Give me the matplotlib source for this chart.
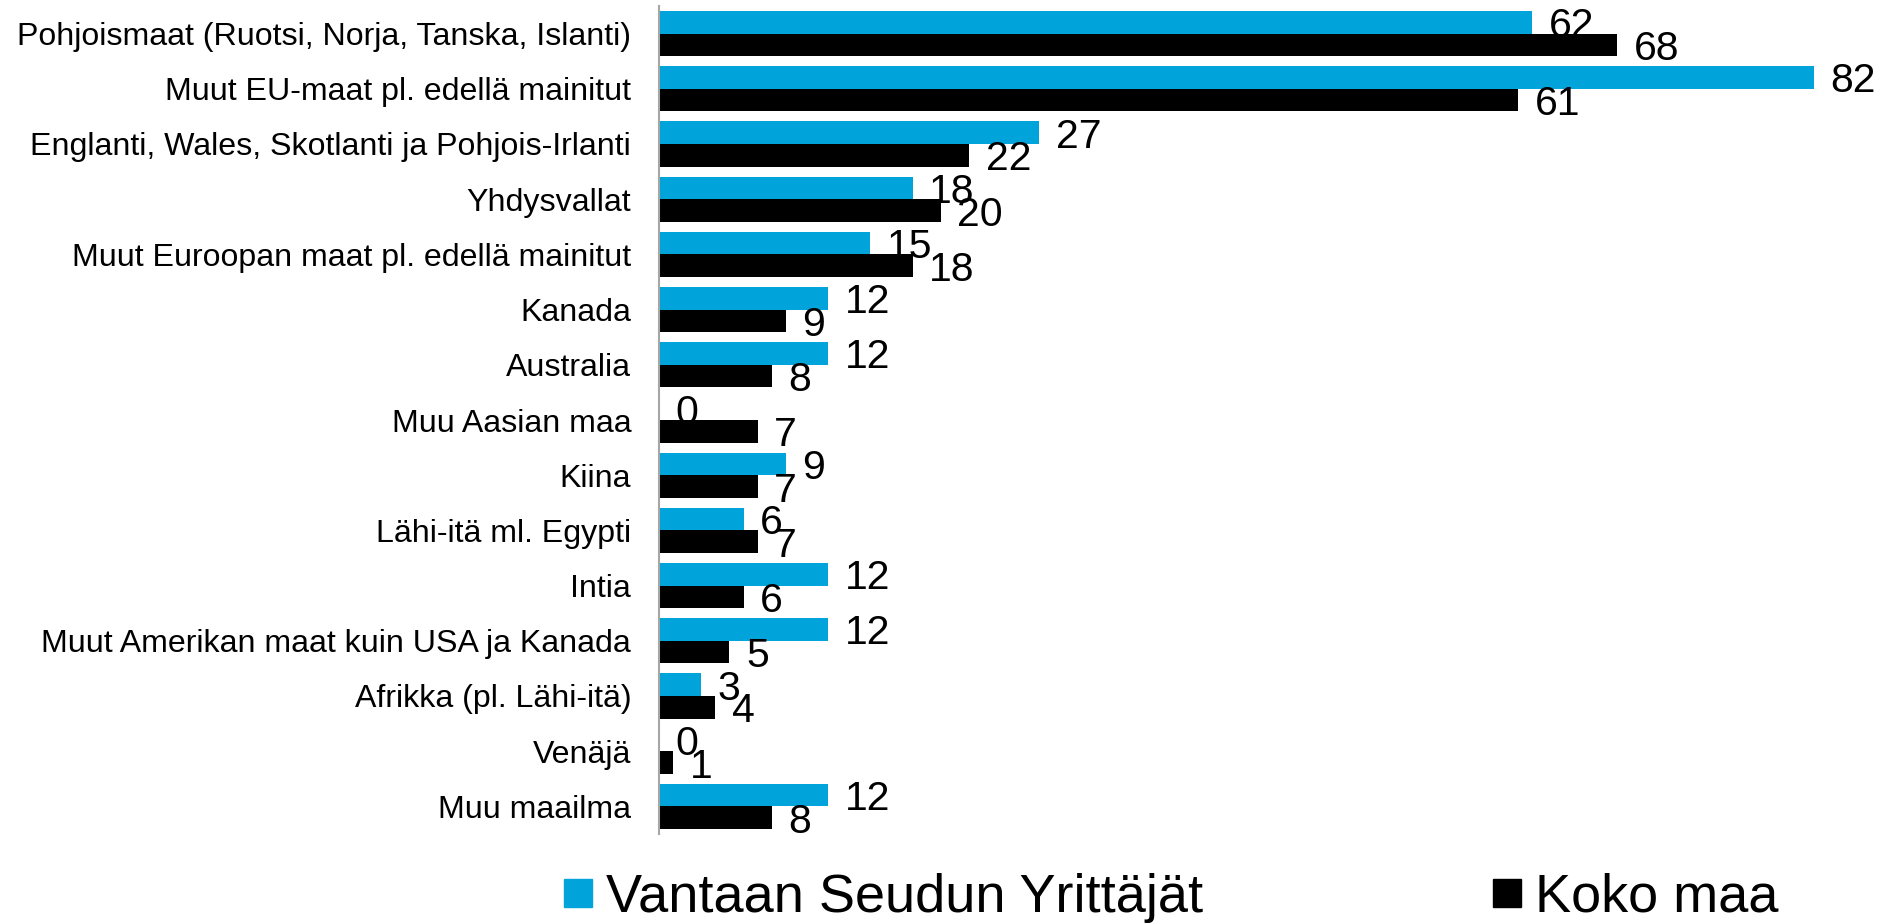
import matplotlib
matplotlib.use('Agg')
import matplotlib.pyplot as plt
from matplotlib.lines import Line2D
import numpy as np

plt.rcParams['font.family'] = ['Liberation Sans', 'DejaVu Sans']

# data, top to bottom as in the chart
categories = [
    'Pohjoismaat (Ruotsi, Norja, Tanska, Islanti)',
    'Muut EU-maat pl. edellä mainitut',
    'Englanti, Wales, Skotlanti ja Pohjois-Irlanti',
    'Yhdysvallat',
    'Muut Euroopan maat pl. edellä mainitut',
    'Kanada',
    'Australia',
    'Muu Aasian maa',
    'Kiina',
    'Lähi-itä ml. Egypti',
    'Intia',
    'Muut Amerikan maat kuin USA ja Kanada',
    'Afrikka (pl. Lähi-itä)',
    'Venäjä',
    'Muu maailma',
]
vantaa = [62, 82, 27, 18, 15, 12, 12, 0, 9, 6, 12, 12, 3, 0, 12]
koko_maa = [68, 61, 22, 20, 18, 9, 8, 7, 7, 7, 6, 5, 4, 1, 8]
series_names = ['Vantaan Seudun Yrittäjät', 'Koko maa']

blue = '#00a3da'
black = '#000000'

fig = plt.figure(figsize=(18.9, 9.24), dpi=100)
ax = fig.add_axes([659 / 1890, 1 - 834 / 924, 1 - 659 / 1890, (834 - 6) / 924])

y = np.arange(len(categories))
h = 0.411
b1 = ax.barh(y - h / 2, vantaa, height=h, color=blue)
b2 = ax.barh(y + h / 2, koko_maa, height=h, color=black)

for bars in (b1, b2):
    texts = ax.bar_label(bars, labels=[str(v) for v in bars.datavalues],
                         padding=12, fontsize=29.5, color='black')
    # digits sit centred on the bar, not the full text box
    for t in texts:
        t.set_va('center_baseline')

ax.set_ylim(len(categories) - 0.5, -0.5)
ax.set_xlim(0, 87.4)
ax.set_yticks(y)
ax.set_yticklabels(categories, fontsize=23.1)
ax.tick_params(axis='y', length=0, pad=20)
ax.set_xticks([])
for s in ['top', 'right', 'bottom']:
    ax.spines[s].set_visible(False)
ax.spines['left'].set_color('#a6a6a6')
ax.spines['left'].set_linewidth(1.5)

handles = [Line2D([], [], marker='s', linestyle='', color=blue, markersize=19.5),
           Line2D([], [], marker='s', linestyle='', color=black, markersize=19.5)]
fig.legend(handles, series_names, loc='lower left',
           bbox_to_anchor=(562 / 1890, 1 / 924), ncol=2, frameon=False,
           fontsize=39, handlelength=0.6, handletextpad=0.22,
           columnspacing=5.3, borderpad=0, borderaxespad=0)

fig.savefig('out.png', dpi=100)
